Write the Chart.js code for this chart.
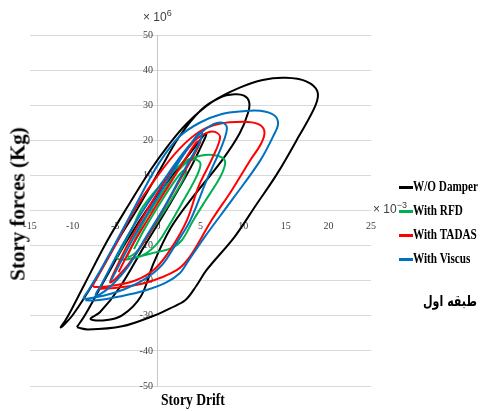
<!DOCTYPE html>
<html>
<head>
<meta charset="utf-8">
<script src="https://cdn.jsdelivr.net/npm/chart.js@4/dist/chart.umd.min.js"></script>
<style>
  html, body { margin: 0; padding: 0; background: #fff; }
  #wrap { position: relative; width: 481px; height: 411px; overflow: hidden; }
  canvas { position: absolute; left: 0; top: 0; }
  .ov { position: absolute; white-space: nowrap; color: #000; }
  .mult { font-family: "Liberation Sans", Arial, sans-serif; font-size: 12px; color: #404040; }
  .mult sup { font-size: 9px; vertical-align: 5px; }
  .ytitle { font-family: "Liberation Serif", "Times New Roman", serif; font-weight: bold; font-size: 21px;
            transform: translate(-50%, -50%) rotate(-90deg); left: 18px; top: 204px; }
  .xtitle { font-family: "Liberation Serif", "Times New Roman", serif; font-weight: bold; font-size: 17px;
            left: 161px; top: 390px; transform: scaleX(0.8); transform-origin: left center; }
  #legend { position: absolute; left: 398px; top: 177px; width: 83px; }
  .li { position: relative; height: 24px; width: 83px; font-family: "Liberation Serif", "Times New Roman", serif; font-weight: bold;
        font-size: 14px; line-height: 20px; white-space: nowrap; }
  .li .sw { position: absolute; left: 1px; top: 9px; width: 14px; height: 2.5px; }
  .li .tx { position: absolute; left: 15px; top: 0; white-space: nowrap; transform: scaleX(0.8); transform-origin: left center; }
  .floor { font-family: "DejaVu Sans", sans-serif; font-weight: bold; font-size: 15px; direction: rtl;
           right: 4px; top: 292px; transform: scaleX(0.74); transform-origin: right center; }
</style>
</head>
<body>
<div id="wrap">
  <canvas id="c" width="481" height="411"></canvas>
  <div class="ov mult" style="left:143px; top:8px;">× 10<sup>6</sup></div>
  <div class="ov mult" style="left:373px; top:200px;">× 10<sup>−3</sup></div>
  <div class="ov ytitle">Story forces (Kg)</div>
  <div class="ov xtitle">Story Drift</div>
  <div id="legend"></div>
  <div class="ov floor">طبقه اول</div>
</div>
<script>
// ---- axis ticks ----
const xTicks = [-15, -10, -5, 0, 5, 10, 15, 20, 25];      // drift (x 10^-3)
const yTicks = [-50, -40, -30, -20, -10, 0, 10, 20, 30, 40, 50]; // force (x 10^6)

// ---- series names / colours ----
const seriesNames = ["W/O Damper", "With RFD", "With TADAS", "With Viscus"];
const seriesColors = ["#000000", "#00b050", "#ff0000", "#0070c0"];

// ---- hysteresis paths, [drift, force] ----
const woDamper = [
  [-9.5,-33.2],[-8.6,-30],[-6.3,-20],[-3.6,-8.5],[-0.5,3],[2.2,11.4],[4.3,18],[5.3,21.2],[5.7,21.9],
  [5.5,20.5],[3.8,12],[1.2,1],[-1.8,-11],[-4.5,-22],[-6.8,-29],[-7.9,-30.9],
  [-6.2,-31.3],[-4.2,-29.9],[-2,-24.5],[-0.5,-15],[1.5,-5],[4,3.5],[7.5,14.2],[9.6,22],[10.6,28],[10.7,31],
  [10.1,32.7],[9,33.1],[7.3,32.2],[5,28.5],[2.5,21],[0.2,11.4],[-2.4,0.5],[-4.7,-8.5],[-7.4,-20],[-9.9,-29.5],
  [-11.1,-32.8],[-11.4,-33.3],[-10.9,-31.5],[-10.3,-29],[-8.6,-21],[-5.9,-8.5],[-3.6,0.9],[-0.9,11.4],[1.2,18.5],
  [3.4,24.8],[6.4,31],[9.6,35],[12.3,37.2],[15,37.8],[17.4,36.8],[18.7,34],[18.5,30],[16.5,21],[14,10.5],
  [11.5,1.5],[9,-7.5],[5.7,-17],[4.5,-21.5],[3.2,-25.6],[1.5,-27.8],[-0.4,-29.9],[-4.2,-33],[-8.2,-33.9],[-9.5,-33.3]
];
const withRFD = [
  [-2.8,-11],[-1.5,-5],[0.5,3],[2,8.5],[2.9,11.2],[3.3,11.3],[3,9],[1.7,3.5],[0,-3],[-1.5,-8.5],[-2.6,-12],
  [-3.5,-13.2],[-3.2,-11],[-1.6,-3],[0.5,5],[2.2,10.8],[3.4,13.8],[4.4,14.5],[5,13.3],[4.5,9.5],[2.8,2],
  [1,-5.5],[-0.3,-10],[-2,-13],[-4,-14],[-4.8,-13.5],[-4.3,-11],[-3,-5],[-1.8,0.9],[1.1,9.4],[3.2,14],
  [5,15.6],[6.5,15.8],[7.6,15],[7.9,13.5],[7.6,11],[7,8.2],[5.5,2.5],[4.1,-3],[2.8,-8.5],[1.5,-10.8],
  [-0.9,-12.3],[-3.3,-13.8],[-4.6,-14]
];
const withTADAS = [
  [-4.6,-17.5],[-3,-10],[-0.8,-1],[1.5,8],[3.3,15],[4.5,19.3],[5,19.8],[4.6,17.5],[3,10.5],[0.8,1],
  [-1.5,-8.5],[-3.5,-15.5],[-5,-19.5],[-5.6,-20.5],[-5.3,-18.5],[-3.5,-9.5],[-1.3,0],[1,9],[3,16],[4.6,20.5],
  [5.8,22.2],[6.7,22.4],[7.3,20.8],[6.4,15],[4.8,7],[3.4,-2.8],[1.5,-11],[-0.3,-16.5],[-2.5,-19.8],[-5,-21.3],
  [-7,-21.8],[-7.6,-21.5],[-7.2,-19.5],[-5,-10],[-2.8,0],[0,10],[2.5,17.5],[4.9,22.5],[7,24.6],[10,25.3],
  [11.8,24.6],[12.5,22.5],[12.1,19],[10.8,14.2],[8.6,5.5],[6.3,-2.8],[3.8,-13],[2.2,-17],[-1.3,-20.5],
  [-4.8,-22],[-7,-22.3]
];
const withViscus = [
  [-5.5,-20],[-4,-13],[-2,-4],[0.5,6],[2.5,14],[4,19.5],[4.8,22],[5.2,22],[4.8,19],[3.2,12],[1,2],[-1.5,-8],
  [-3.5,-16],[-5.5,-21.5],[-7,-24.2],[-7.3,-24],[-6.6,-21],[-4.2,-10],[-2,-1],[0.5,8],[3,16.5],[5,22],
  [6.5,24.6],[7.6,25],[8.1,23.6],[7.6,19],[5.7,8.5],[3.8,-2.8],[2,-10],[0.5,-15.5],[-1.5,-19.5],[-4,-22.5],
  [-6.3,-24.2],[-8,-25],[-8.7,-25],[-8.2,-23],[-6.5,-16],[-4.8,-8.5],[-2.5,2],[0,13],[2.5,21],[4.9,25],
  [7.5,27.5],[10,28.3],[12,28.4],[13.6,27.2],[14.1,24.8],[13.6,21.5],[12,14.2],[9,4],[5.5,-7.5],[3.4,-15],
  [2.6,-17.8],[1,-20.5],[-1.5,-22.8],[-4.5,-24.5],[-7.2,-25.6],[-8.5,-25.6]
];

const seriesData = [woDamper, withRFD, withTADAS, withViscus];
const drawOrder = [4, 3, 2, 1]; // later series drawn on top

const datasets = seriesData.map((pts, i) => ({
  label: seriesNames[i],
  data: pts.map(p => ({ x: p[0], y: p[1] })),
  showLine: true,
  borderColor: seriesColors[i],
  backgroundColor: seriesColors[i],
  borderWidth: 2,
  pointRadius: 0,
  pointHoverRadius: 0,
  tension: 0.35,
  fill: false,
  order: drawOrder[i]
}));

new Chart(document.getElementById('c'), {
  type: 'scatter',
  data: { datasets },
  options: {
    responsive: false,
    devicePixelRatio: 1,
    animation: false,
    events: [],
    layout: { padding: { left: 30, right: 110, top: 35, bottom: 25 } },
    plugins: { legend: { display: false }, tooltip: { enabled: false } },
    scales: {
      x: {
        type: 'linear',
        position: { y: 0 },
        min: xTicks[0], max: xTicks[xTicks.length - 1],
        afterBuildTicks: s => { s.ticks = xTicks.map(v => ({ value: v })); },
        grid: { display: false, drawTicks: false },
        border: { display: false },
        ticks: { padding: 10, color: '#404040', font: { family: 'Liberation Serif', size: 10 }, maxRotation: 0 }
      },
      y: {
        type: 'linear',
        position: { x: 0 },
        min: yTicks[0], max: yTicks[yTicks.length - 1],
        afterBuildTicks: s => { s.ticks = yTicks.map(v => ({ value: v })); },
        grid: { color: '#d9d9d9', lineWidth: 1, drawTicks: true, tickLength: 7 },
        border: { display: true, color: '#c8c8c8', width: 1 },
        ticks: { padding: 2, color: '#404040', font: { family: 'Liberation Serif', size: 10 },
                 callback: v => v + '  ' }
      }
    }
  }
});

// HTML legend built from the series arrays
const lg = document.getElementById('legend');
seriesNames.forEach((n, i) => {
  const d = document.createElement('div');
  d.className = 'li';
  d.innerHTML = '<span class="sw" style="background:' + seriesColors[i] + '"></span><span class="tx">' + n + '</span>';
  lg.appendChild(d);
});
</script>
</body>
</html>
